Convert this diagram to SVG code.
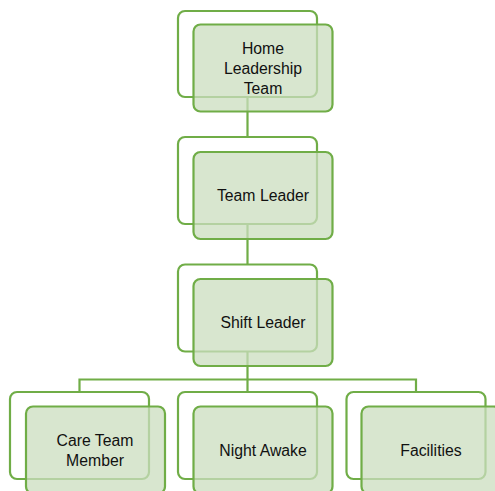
<svg xmlns="http://www.w3.org/2000/svg" width="495" height="491" viewBox="0 0 495 491">
<style>
.back{fill:#ffffff;stroke:#70AD47;stroke-width:2.2}
.front{fill:rgb(203,221,191);fill-opacity:0.75;stroke:#70AD47;stroke-width:2.2}
.conn{fill:none;stroke:#70AD47;stroke-width:2.2}
text{font-family:"Liberation Sans",Arial,sans-serif;font-size:15.8px;fill:#111111;text-anchor:middle}
</style>
<rect width="495" height="491" fill="#ffffff"/>
<g id="connectors">
<path class="conn" d="M247.5 97V137M247.5 224V264.5M247.5 351.5V379.5M79.5 392V379.5H416V392M247.5 379.5V392"/>
</g>
<g id="home-leadership-team">
<rect class="back" x="178" y="11" width="139" height="86" rx="7"/>
<rect class="front" x="193.5" y="24.5" width="139" height="87" rx="7"/>
<text x="263" y="53.5">Home</text>
<text x="263" y="73.5">Leadership</text>
<text x="263" y="93.5">Team</text>
</g>
<g id="team-leader">
<rect class="back" x="178" y="137" width="139" height="87" rx="7"/>
<rect class="front" x="193.5" y="152" width="139" height="87" rx="7"/>
<text x="263" y="201">Team Leader</text>
</g>
<g id="shift-leader">
<rect class="back" x="178" y="264.5" width="139" height="87" rx="7"/>
<rect class="front" x="193.5" y="279" width="139" height="87" rx="7"/>
<text x="263" y="328">Shift Leader</text>
</g>
<g id="care-team-member">
<rect class="back" x="10" y="392" width="139" height="87" rx="7"/>
<rect class="front" x="26" y="406.5" width="139" height="87" rx="7"/>
<text x="95" y="445.5">Care Team</text>
<text x="95" y="466">Member</text>
</g>
<g id="night-awake">
<rect class="back" x="178" y="392" width="139" height="87" rx="7"/>
<rect class="front" x="193.5" y="406.5" width="139" height="87" rx="7"/>
<text x="263" y="456">Night Awake</text>
</g>
<g id="facilities">
<rect class="back" x="346.5" y="392" width="139" height="87" rx="7"/>
<rect class="front" x="361.5" y="406.5" width="139" height="87" rx="7"/>
<text x="431" y="456">Facilities</text>
</g>
</svg>
